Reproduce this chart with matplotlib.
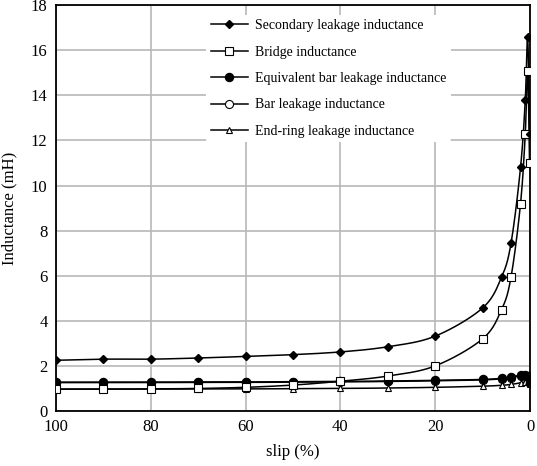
import numpy as np
import matplotlib
matplotlib.use('Agg')
import matplotlib.pyplot as plt

# slip values (%) and inductances (mH)
slip = [100, 90, 80, 70, 60, 50, 40, 30, 20, 10, 6, 4, 2, 1, 0.5, 0.1]
secondary = [2.25, 2.3, 2.3, 2.35, 2.42, 2.5, 2.62, 2.85, 3.32, 4.57, 5.94, 7.45, 10.8, 13.8, 16.6, 12.3]
bridge = [0.97, 0.97, 0.98, 1.0, 1.05, 1.15, 1.32, 1.55, 2.0, 3.2, 4.5, 5.95, 9.2, 12.3, 15.1, 11.0]
eq_bar = [1.28, 1.28, 1.28, 1.29, 1.29, 1.3, 1.31, 1.33, 1.36, 1.4, 1.45, 1.5, 1.6, 1.6, 1.55, 1.25]
bar = [1.26, 1.26, 1.26, 1.27, 1.27, 1.28, 1.29, 1.31, 1.34, 1.38, 1.43, 1.48, 1.57, 1.57, 1.52, 1.23]
end_ring = [0.97, 0.97, 0.97, 0.98, 0.98, 0.99, 1.0, 1.02, 1.05, 1.1, 1.14, 1.18, 1.25, 1.3, 1.3, 1.2]

labels = ['Secondary leakage inductance', 'Bridge inductance',
          'Equivalent bar leakage inductance', 'Bar leakage inductance',
          'End-ring leakage inductance']

plt.rcParams['font.family'] = ['Liberation Serif', 'DejaVu Serif']


def smooth(x, y, xr, yr, n=20):
    # Excel-like smoothed line (Catmull-Rom bezier in normalised coords)
    x = np.asarray(x, float) / xr
    y = np.asarray(y, float) / yr
    px = np.concatenate([[x[0]], x, [x[-1]]])
    py = np.concatenate([[y[0]], y, [y[-1]]])
    ox, oy = [], []
    t = np.linspace(0, 1, n)
    for i in range(1, len(px) - 2):
        p0 = np.array([px[i], py[i]])
        p3 = np.array([px[i + 1], py[i + 1]])
        p1 = p0 + (p3 - np.array([px[i - 1], py[i - 1]])) / 6.0
        p2 = p3 - (np.array([px[i + 2], py[i + 2]]) - p0) / 6.0
        b = ((1 - t) ** 3)[:, None] * p0 + (3 * (1 - t) ** 2 * t)[:, None] * p1 \
            + (3 * (1 - t) * t ** 2)[:, None] * p2 + (t ** 3)[:, None] * p3
        ox.extend(b[:, 0])
        oy.extend(b[:, 1])
    return np.array(ox) * xr, np.array(oy) * yr


fig = plt.figure(figsize=(5.37, 4.66), dpi=100)
ax = fig.add_axes([0.104, 0.118, 0.883, 0.871])

styles = [
    dict(marker='D', ms=4, mfc='black', mec='black'),
    dict(marker='s', ms=5.8, mfc='white', mec='black', mew=0.8),
    dict(marker='o', ms=5.8, mfc='black', mec='black'),
    dict(marker='o', ms=5.8, mfc='white', mec='black', mew=0.8),
    dict(marker='^', ms=5, mfc='white', mec='black', mew=0.8),
]
series = [secondary, bridge, eq_bar, bar, end_ring]
draw_order = [4, 3, 2, 1, 0]
handles = [None] * 5
for k in draw_order:
    sx, sy = smooth(slip, series[k], 100.0, 18.0)
    ax.plot(sx, sy, color='black', lw=1.1, zorder=3)
    ax.plot(slip, series[k], ls='none', zorder=4, **styles[k])
    handles[k], = ax.plot([], [], color='black', lw=1.1, **styles[k])

ax.set_xlim(100, 0)
ax.set_ylim(0, 18)
ax.set_xticks([100, 80, 60, 40, 20, 0])
ax.set_yticks(range(0, 19, 2))
ax.grid(True, color='#b8b8b8', lw=1.2)
ax.set_axisbelow(True)
ax.tick_params(length=0, labelsize=12, pad=6)
for s in ax.spines.values():
    s.set_linewidth(1.3)
ax.set_xlabel('slip (%)', fontsize=12, labelpad=6)
ax.set_ylabel('Inductance (mH)', fontsize=12)
ax.yaxis.set_label_coords(-0.082, 0.5)

leg = ax.legend(handles, labels, loc='upper left', bbox_to_anchor=(0.303, 0.993),
                frameon=True, fontsize=10, handlelength=2.7, labelspacing=0.97,
                borderpad=0.3, handletextpad=0.5)
leg.get_frame().set_edgecolor('none')
leg.get_frame().set_facecolor('white')
leg.get_frame().set_alpha(1)

fig.savefig('out.png', dpi=100)
